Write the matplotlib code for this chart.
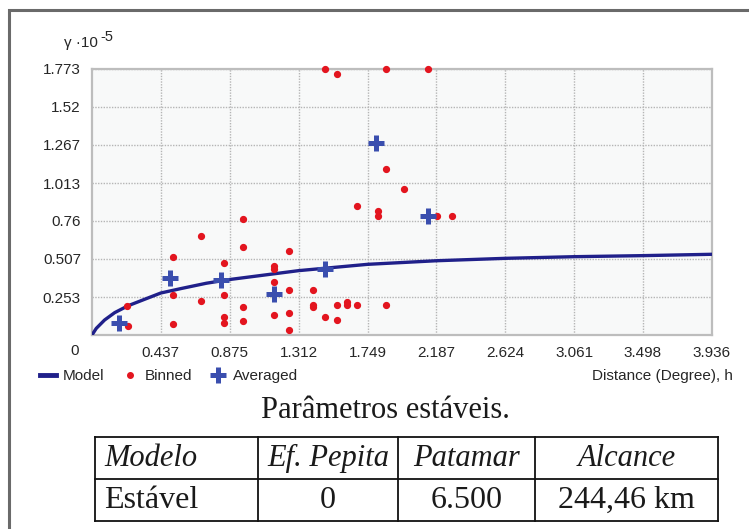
import matplotlib
matplotlib.use('Agg')
import matplotlib.pyplot as plt
from matplotlib.lines import Line2D

plt.rcParams['font.family'] = ['Liberation Sans', 'DejaVu Sans']

# semivariogram data (gamma in units of 1e-5)
model_h = [0, 0.027, 0.08, 0.144, 0.229, 0.334, 0.437, 0.567, 0.726, 0.875,
           1.312, 1.749, 2.187, 2.624, 3.061, 3.498, 3.936]
model_g = [0, 0.044, 0.10, 0.149, 0.195, 0.238, 0.28, 0.31, 0.345, 0.37,
           0.429, 0.471, 0.495, 0.511, 0.522, 0.529, 0.538]

binned_h = [0.224, 0.229, 0.514, 0.514, 0.514, 0.690, 0.690,
            0.838, 0.838, 0.838, 0.838, 0.959, 0.959, 0.959, 0.959,
            1.153, 1.153, 1.153, 1.153, 1.249, 1.249, 1.249, 1.249,
            1.405, 1.405, 1.405, 1.479, 1.479, 1.553, 1.553, 1.553,
            1.617, 1.617, 1.684, 1.684, 1.813, 1.813, 1.866, 1.866, 1.866,
            1.981, 2.135, 2.188, 2.287]
binned_g = [0.195, 0.062, 0.520, 0.265, 0.071, 0.658, 0.229,
            0.482, 0.265, 0.122, 0.082, 0.773, 0.589, 0.189, 0.091,
            0.460, 0.440, 0.355, 0.131, 0.560, 0.298, 0.149, 0.033,
            0.298, 0.198, 0.185, 0.122, 1.771, 0.198, 0.100, 1.740,
            0.218, 0.198, 0.198, 0.862, 0.824, 0.793, 0.198, 1.106, 1.773,
            0.971, 1.773, 0.795, 0.795]

avg_h = [0.169, 0.493, 0.819, 1.153, 1.479, 1.803, 2.135]
avg_g = [0.082, 0.382, 0.367, 0.275, 0.438, 1.282, 0.795]

xticks = [0.437, 0.875, 1.312, 1.749, 2.187, 2.624, 3.061, 3.498, 3.936]
yticks = [0.253, 0.507, 0.76, 1.013, 1.267, 1.52, 1.773]

table_header = ['Modelo', 'Ef. Pepita', 'Patamar', 'Alcance']
table_row = ['Estável', '0', '6.500', '244,46 km']

W, H = 749, 529
fig = plt.figure(figsize=(W / 100, H / 100), dpi=100)
fig.patch.set_facecolor('white')

ax = fig.add_axes([92 / W, 1 - 335 / H, 620 / W, 266 / H])
ax.set_facecolor('#f8f9f9')

ax.plot(model_h, model_g, color='#20208a', lw=2.4, zorder=3)
ax.plot(binned_h, binned_g, ls='none', marker='o', ms=4.2, color='#e3151f',
        mec='#e3151f', zorder=4, clip_on=False)
ax.plot(avg_h, avg_g, ls='none', marker='+', ms=11, mew=3.6, color='#3a4eae',
        zorder=5)

ax.set_xlim(0, 3.936)
ax.set_ylim(0, 1.773)
ax.set_xticks(xticks)
ax.set_xticklabels([str(v) for v in xticks])
ax.set_yticks(yticks)
ax.set_yticklabels([f'{v:g}' for v in yticks])
ax.tick_params(length=0, labelsize=11, labelcolor='#262626', pad=8)
ax.grid(True, color='#b5b5b5', ls=(0, (1, 1)), lw=1)
for s in ax.spines.values():
    s.set_color('#bdbdbd')
    s.set_linewidth(1.6)

fig.text(75 / W, 1 - 351 / H, '0', fontsize=11, color='#262626',
         ha='center', va='center')
# y axis unit label, with a near full size exponent as in the original
fig.text(64 / W, 1 - 47 / H, 'γ ·10', fontsize=11,
         color='#262626', ha='left', va='baseline')
fig.text(100 / W, 1 - 41 / H, '-5', fontsize=10.5,
         color='#262626', ha='left', va='baseline')

handles = [
    Line2D([], [], color='#20208a', lw=3.5),
    Line2D([], [], ls='none', marker='o', ms=4, color='#e3151f'),
    Line2D([], [], ls='none', marker='+', ms=11, mew=3.6, color='#3a4eae'),
]
fig.legend(handles, ['Model', 'Binned', 'Averaged'], loc='center left',
           bbox_to_anchor=(40 / W, 1 - 376 / H), ncol=3, frameon=False,
           fontsize=11, handlelength=1.05, handletextpad=0.45,
           columnspacing=1.15, borderaxespad=0, borderpad=0,
           labelcolor='#262626')
fig.text(733 / W, 1 - 376 / H, 'Distance (Degree), h', fontsize=11,
         color='#262626', ha='right', va='center')

# overlay in pixel coordinates for the frame, caption and table
ov = fig.add_axes([0, 0, 1, 1], zorder=-1)
ov.set_xlim(0, W)
ov.set_ylim(H, 0)
ov.axis('off')
ov.plot([9, 9, W], [H, 10, 10], color='#6a6a6a', lw=2.2, solid_joinstyle='miter')

serif = ['Liberation Serif', 'DejaVu Serif']
ov.text(385, 411, 'Parâmetros estáveis.', family=serif, fontsize=22,
        ha='center', va='center', color='#1a1a1a')

col_edges = [95, 258, 398, 535, 718]
row_edges = [437, 479, 521]
for x in col_edges:
    ov.plot([x, x], [row_edges[0], row_edges[-1]], color='#111111', lw=1.3)
for y in row_edges:
    ov.plot([col_edges[0], col_edges[-1]], [y, y], color='#111111', lw=1.3)

for i, (hdr, val) in enumerate(zip(table_header, table_row)):
    if i == 0:
        xpos, ha = col_edges[0] + 9, 'left'
    else:
        xpos, ha = (col_edges[i] + col_edges[i + 1]) / 2, 'center'
    ov.text(xpos, (row_edges[0] + row_edges[1]) / 2, hdr, family=serif,
            style='italic', fontsize=22, ha=ha, va='center', color='#1a1a1a')
    ov.text(xpos, (row_edges[1] + row_edges[2]) / 2, val, family=serif,
            fontsize=23, ha=ha, va='center', color='#1a1a1a')

fig.savefig('out.png', dpi=100)
